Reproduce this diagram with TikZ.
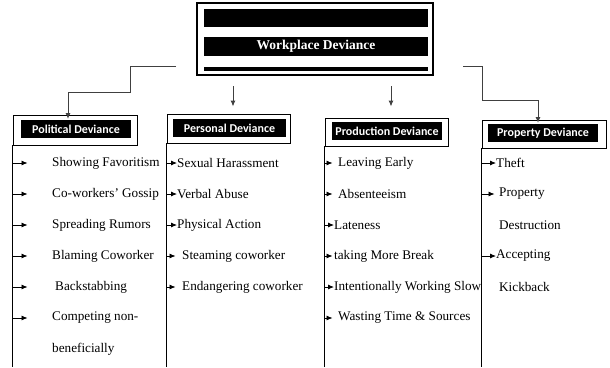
\documentclass[tikz,border=0pt]{standalone}
\usepackage{fontspec}
\setmainfont{Liberation Serif}
\newfontfamily\lblfont{Carlito}
\usetikzlibrary{arrows.meta,positioning,calc}
\tikzset{
  topframe/.style={draw, line width=1.1pt, minimum width=236, minimum height=72, inner sep=0pt},
  blackbar/.style={fill=black, text=white, inner sep=0pt, minimum width=224,
                   font=\fontsize{13.5}{15}\selectfont\bfseries},
  catbox/.style={draw, line width=0.9pt, inner sep=0pt, minimum width=123, minimum height=29},
  catlbl/.style={fill=black, text=white, inner sep=0pt, minimum width=110, minimum height=18,
                 font=\lblfont\fontsize{12}{14}\selectfont\bfseries},
  item/.style={anchor=west, inner sep=0pt, font=\fontsize{13.2}{15}\selectfont},
  spine/.style={line width=0.8pt},
  link/.style={-{Latex[length=6pt,width=5pt]}, line width=1pt, color=black!75},
  iarr/.style={-{Latex[length=6pt,width=5pt]}, line width=0.8pt}}
\begin{document}
\begin{tikzpicture}[x=1pt, y=-1pt]
  \useasboundingbox (0,0) rectangle (610,367);
  \node[topframe] (top) at (315,39) {};
  \node[blackbar, minimum height=18] (bar1) at (316,18) {};
  \node[blackbar, minimum height=19] (bar2) at (316,46.5) {Workplace Deviance};
  \node[blackbar, minimum height=4] (bar3) at (316,69) {};

  \node[catbox, minimum width=124, minimum height=30] (polbox) at (75,130) {};
  \node[catlbl] (pollbl) at (76,129) {Political Deviance};
  \node[catbox] (perbox) at (228.5,128.5) {};
  \node[catlbl, minimum width=113] (perlbl) at (229.5,128) {Personal Deviance};
  \node[catbox, minimum height=28] (prodbox) at (386.5,132) {};
  \node[catlbl] (prodlbl) at (387,131) {Production Deviance};
  \node[catbox, minimum width=124, minimum height=28] (propbox) at (544,134) {};
  \node[catlbl] (proplbl) at (543,133) {Property Deviance};

  \coordinate (lstart) at (176,66);
  \coordinate (ltip) at (68,119);
  \coordinate (rstart) at (463,66);
  \coordinate (rtip) at (538,123);
  \coordinate (pertop) at (233,86);
  \coordinate (prodtop) at (391,86);
  \coordinate (bottom) at (0,367);
  \draw[link] (lstart) -- (130,66) -- (130,92) -| (ltip);
  \draw[link] (rstart) -- (482,66) -- (482,100) -| (rtip);
  \draw[link] (pertop) -- ([yshift=7pt]perbox.north -| pertop);
  \draw[link] (prodtop) -- ([yshift=11pt]prodbox.north -| prodtop);

  \draw[spine] (polbox.south west) -- (polbox.south west |- bottom);
  \draw[spine] (perbox.south west) -- (perbox.south west |- bottom);
  \draw[spine] (prodbox.south west) -- (prodbox.south west |- bottom);
  \draw[spine] (propbox.south west) -- (propbox.south west |- bottom);

  \node[item] (p1) at (52,163) {Showing Favoritism};
  \node[item] (p2) at (52,194) {Co-workers' Gossip};
  \node[item] (p3) at (52,225) {Spreading Rumors};
  \node[item] (p4) at (52,256) {Blaming Coworker};
  \node[item] (p5) at (55,287) {Backstabbing};
  \node[item] (p6) at (52,318) {Competing non-};
  \node[item] (p7) at (52,349) {beneficially};
  \draw[iarr] (polbox.west |- p1) -- ++(15,0);
  \draw[iarr] (polbox.west |- p2) -- ++(15,0);
  \draw[iarr] (polbox.west |- p3) -- ++(15,0);
  \draw[iarr] (polbox.west |- p4) -- ++(15,0);
  \draw[iarr] (polbox.west |- p5) -- ++(15,0);
  \draw[iarr] (polbox.west |- p6) -- ++(15,0);

  \node[item] (s1) at (177,163) {Sexual Harassment};
  \node[item] (s2) at (177,194) {Verbal Abuse};
  \node[item] (s3) at (177,225) {Physical Action};
  \node[item] (s4) at (182,256) {Steaming coworker};
  \node[item] (s5) at (182,287) {Endangering coworker};
  \draw[iarr] (perbox.west |- s1) -- (s1.west);
  \draw[iarr] (perbox.west |- s2) -- (s2.west);
  \draw[iarr] (perbox.west |- s3) -- (s3.west);
  \draw[iarr] (perbox.west |- s4) -- ++(9,0);
  \draw[iarr] (perbox.west |- s5) -- ++(9,0);

  \node[item] (d1) at (338,163) {Leaving Early};
  \node[item] (d2) at (338,194) {Absenteeism};
  \node[item] (d3) at (334,225) {Lateness};
  \node[item] (d4) at (334,256) {taking More Break};
  \node[item] (d5) at (334,287) {Intentionally Working Slow};
  \node[item] (d6) at (338,318) {Wasting Time \& Sources};
  \draw[iarr] (prodbox.west |- d1) -- ++(8,0);
  \draw[iarr] (prodbox.west |- d2) -- ++(8,0);
  \draw[iarr] (prodbox.west |- d3) -- (d3.west);
  \draw[iarr] (prodbox.west |- d4) -- ++(8,0);
  \draw[iarr] (prodbox.west |- d5) -- (d5.west);
  \draw[iarr] (prodbox.west |- d6) -- ++(8,0);

  \node[item] (t1) at (496,163) {Theft};
  \node[item] (t2) at (499,194) {Property};
  \node[item] (t3) at (499,225) {Destruction};
  \node[item] (t4) at (496,256) {Accepting};
  \node[item] (t5) at (499,287) {Kickback};
  \draw[iarr] (propbox.west |- t1) -- (t1.west);
  \draw[iarr] (propbox.west |- t2) -- ++(13,0);
  \draw[iarr] (propbox.west |- t4) -- (t4.west);
\end{tikzpicture}
\end{document}
